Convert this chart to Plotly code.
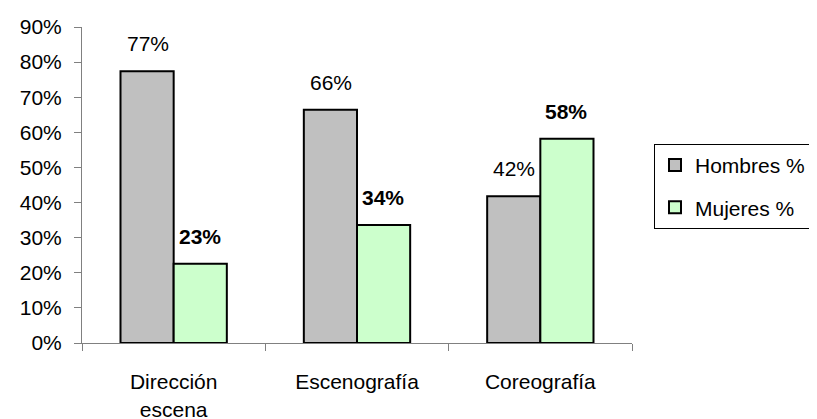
import plotly.graph_objects as go

categories = ["Dirección<br>escena", "Escenografía", "Coreografía"]
hombres = [77.4, 66.4, 41.8]
mujeres = [22.6, 33.6, 58.2]
hombres_labels = ["77%", "66%", "42%"]
mujeres_labels = ["23%", "34%", "58%"]

FONT = "Arial, Liberation Sans, sans-serif"
FS = 21

fig = go.Figure()

fig.add_trace(
    go.Bar(
        x=categories,
        y=hombres,
        name="Hombres %",
        legendgroup="h",
        marker=dict(color="#C0C0C0", line=dict(color="black", width=2)),
    )
)

fig.add_trace(
    go.Bar(
        x=categories,
        y=mujeres,
        name="Mujeres %",
        legendgroup="m",
        marker=dict(color="#CCFFCC", line=dict(color="black", width=2)),
    )
)

# value labels sit well above the bars, like the original
for cat, v, t in zip(categories, hombres, hombres_labels):
    fig.add_annotation(x=cat, y=v, text=t, showarrow=False, xshift=-26,
                       yanchor="bottom", yshift=14, font=dict(size=FS))
for cat, v, t in zip(categories, mujeres, mujeres_labels):
    fig.add_annotation(x=cat, y=v, text="<b>%s</b>" % t, showarrow=False, xshift=26,
                       yanchor="bottom", yshift=14, font=dict(size=FS))

fig.update_layout(
    width=809,
    height=411,
    margin={"l": 74, "r": 185, "t": 19, "b": 76, "autoexpand": False},
    paper_bgcolor="white",
    plot_bgcolor="white",
    font=dict(family=FONT, size=FS, color="black"),
    barmode="group",
    bargap=0.42,
    bargroupgap=0,
    showlegend=True,
    legend=dict(
        x=1.04,
        y=0.63,
        xanchor="left",
        yanchor="top",
        bordercolor="black",
        borderwidth=1,
        font=dict(size=FS),
        traceorder="grouped",
        tracegroupgap=12,
    ),
)

fig.update_xaxes(
    type="category",
    tickson="boundaries",
    ticks="outside",
    ticklen=7,
    tickcolor="#808080",
    showline=True,
    linecolor="#808080",
    linewidth=1,
    showgrid=False,
    ticklabelstandoff=20,
    automargin=False,
)

fig.update_yaxes(
    range=[0, 90],
    dtick=10,
    ticksuffix="%",
    ticks="outside",
    ticklen=7,
    tickcolor="#808080",
    showline=True,
    linecolor="#808080",
    linewidth=1,
    showgrid=False,
    zeroline=False,
    ticklabelstandoff=8,
    automargin=False,
)

fig.write_html("out.html")
